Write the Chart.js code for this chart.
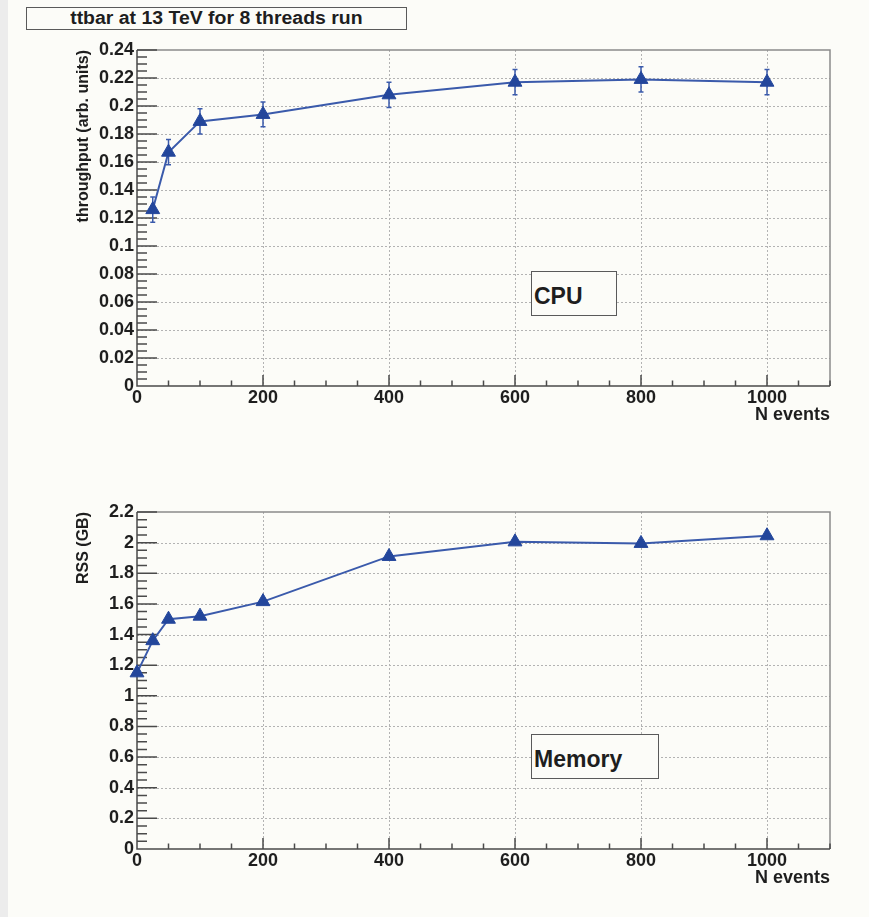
<!DOCTYPE html>
<html><head><meta charset="utf-8">
<script src="https://cdn.jsdelivr.net/npm/chart.js@4.4.1/dist/chart.umd.min.js"></script>
<style>
html,body{margin:0;padding:0;background:#fcfcf8;}
body{width:869px;height:917px;position:relative;overflow:hidden;font-family:'Liberation Sans',Arial,Helvetica,sans-serif;color:#1e1e1e;}
#strip{position:absolute;left:0;top:0;width:8px;height:917px;background:#ececec;}
.box{position:absolute;border:1px solid #5a5a5a;background:#fcfcf8;box-sizing:border-box;}
.title{left:26px;top:7px;width:381px;height:23px;text-align:center;}
.title span{display:inline-block;font-weight:bold;font-size:18px;line-height:21px;transform:scaleX(1.08);}
.lab span{position:absolute;left:2px;top:13px;font-weight:bold;font-size:23px;line-height:23px;white-space:nowrap;}
canvas{position:absolute;left:0;}
</style></head>
<body>
<div id="strip"></div>
<canvas id="c1" width="869" height="460" style="top:0"></canvas>
<canvas id="c2" width="869" height="457" style="top:460px"></canvas>
<div class="box title"><span>ttbar at 13 TeV for 8 threads run</span></div>
<div class="box lab" style="left:531px;top:271px;width:86px;height:45px;"><span>CPU</span></div>
<div class="box lab" style="left:531px;top:734px;width:128px;height:45px;"><span>Memory</span></div>
<script>
// ---- data ----
const cpuEvents = [25, 50, 100, 200, 400, 600, 800, 1000];
const cpuThroughput = [0.126, 0.167, 0.189, 0.194, 0.208, 0.217, 0.219, 0.217];
const cpuErr = [0.009, 0.009, 0.009, 0.0088, 0.009, 0.009, 0.009, 0.009];
const memEvents = [0, 25, 50, 100, 200, 400, 600, 800, 1000];
const memRss = [1.15, 1.36, 1.50, 1.52, 1.615, 1.91, 2.005, 1.995, 2.045];
const xTicks = [0, 200, 400, 600, 800, 1000];
const yTicksCpu = [0, 0.02, 0.04, 0.06, 0.08, 0.1, 0.12, 0.14, 0.16, 0.18, 0.2, 0.22, 0.24];
const yTicksMem = [0, 0.2, 0.4, 0.6, 0.8, 1, 1.2, 1.4, 1.6, 1.8, 2, 2.2];

const TXT = '#1e1e1e';
const LINE = '#3a5aab';
const MARK = '#23469b';
Chart.defaults.font.family = "'Liberation Sans', Arial, Helvetica, sans-serif";

function makeFrame(cfg) {
  return {
    id: 'rootFrame',
    beforeDatasetsDraw(chart) {
      const {ctx, chartArea: a, scales: {x, y}} = chart;
      ctx.save();
      // dotted grid at major ticks
      ctx.strokeStyle = '#b3b3b3'; ctx.lineWidth = 1; ctx.setLineDash([2, 2]);
      ctx.beginPath();
      xTicks.forEach(v => {
        if (v === x.min) return;
        const p = Math.round(x.getPixelForValue(v)) + 0.5;
        ctx.moveTo(p, a.top); ctx.lineTo(p, a.bottom);
      });
      cfg.yTicks.forEach(v => {
        if (v === y.min || v === y.max) return;
        const p = Math.round(y.getPixelForValue(v)) + 0.5;
        ctx.moveTo(a.left, p); ctx.lineTo(a.right, p);
      });
      ctx.stroke();
      ctx.setLineDash([]);
      // frame
      ctx.strokeStyle = '#8a8a8a'; ctx.lineWidth = 1.5;
      ctx.beginPath();
      ctx.moveTo(a.left, a.top); ctx.lineTo(a.right, a.top); ctx.lineTo(a.right, a.bottom);
      ctx.stroke();
      ctx.strokeStyle = '#4a4a4a';
      ctx.beginPath();
      ctx.moveTo(a.left, a.top); ctx.lineTo(a.left, a.bottom); ctx.lineTo(a.right, a.bottom);
      // y ticks (inside)
      const ny = Math.round((y.max - y.min) / cfg.yMinor);
      for (let i = 0; i <= ny; i++) {
        const v = y.min + i * cfg.yMinor;
        const major = cfg.yTicks.some(t => Math.abs(t - v) < cfg.yMinor / 10);
        const p = y.getPixelForValue(v);
        ctx.moveTo(a.left, p); ctx.lineTo(a.left + (major ? 20 : 10), p);
      }
      // x ticks (inside)
      const nx = Math.round((x.max - x.min) / 50);
      for (let i = 0; i <= nx; i++) {
        const v = x.min + i * 50;
        const major = xTicks.includes(v);
        const p = x.getPixelForValue(v);
        ctx.moveTo(p, a.bottom); ctx.lineTo(p, a.bottom - (major ? 11 : 5.5));
      }
      ctx.stroke();
      // error bars
      if (cfg.err) {
        const ds = chart.data.datasets[0].data;
        ctx.strokeStyle = LINE; ctx.lineWidth = 1.5;
        ctx.beginPath();
        ds.forEach((d, i) => {
          const px = x.getPixelForValue(d.x);
          const top = y.getPixelForValue(d.y + cfg.err[i]);
          const bot = y.getPixelForValue(d.y - cfg.err[i]);
          ctx.moveTo(px, top); ctx.lineTo(px, bot);
          ctx.moveTo(px - 2.5, top); ctx.lineTo(px + 2.5, top);
          ctx.moveTo(px - 2.5, bot); ctx.lineTo(px + 2.5, bot);
        });
        ctx.stroke();
      }
      ctx.restore();
    }
  };
}

function makeChart(id, xs, ys, cfg) {
  return new Chart(document.getElementById(id), {
    type: 'scatter',
    data: {datasets: [{
      data: xs.map((v, i) => ({x: v, y: ys[i]})),
      showLine: true, borderColor: LINE, borderWidth: 2, tension: 0,
      pointStyle: 'triangle', pointRadius: 8, pointHoverRadius: 8,
      pointBackgroundColor: MARK, pointBorderColor: MARK, pointBorderWidth: 1,
      clip: false
    }]},
    options: {
      responsive: false, animation: false, events: [],
      layout: {padding: {left: 0, top: cfg.padTop, right: 39, bottom: 0}},
      plugins: {legend: {display: false}, tooltip: {enabled: false}},
      scales: {
        x: {
          type: 'linear', min: 0, max: 1100,
          grid: {display: false, drawTicks: false}, border: {display: false},
          afterBuildTicks: s => { s.ticks = xTicks.map(v => ({value: v})); },
          afterFit: s => { s.height = cfg.xAxisH; },
          ticks: {padding: 1, color: TXT, font: {size: 18, weight: 'bold'}, maxRotation: 0, autoSkip: false,
                  callback: v => String(v)},
          title: {display: true, text: 'N events', align: 'end', color: TXT,
                  font: {size: 18, weight: 'bold'}, padding: {top: cfg.xTitlePad, bottom: cfg.xTitlePad}}
        },
        y: {
          type: 'linear', min: 0, max: cfg.yMax,
          grid: {display: false, drawTicks: false}, border: {display: false},
          afterBuildTicks: s => { s.ticks = cfg.yTicks.map(v => ({value: v})); },
          afterFit: s => { s.width = 137; },
          ticks: {padding: 3, color: TXT, font: {size: 18, weight: 'bold'}, autoSkip: false,
                  callback: v => String(v)},
          title: {display: true, text: cfg.yTitle, align: 'end', color: TXT,
                  font: {size: 16, weight: 'bold'}, padding: {top: 74.4, bottom: 74.4}}
        }
      }
    },
    plugins: [makeFrame(cfg)]
  });
}

makeChart('c1', cpuEvents, cpuThroughput, {
  padTop: 50, xAxisH: 74, xTitlePad: 34.2, yMax: 0.24, yTicks: yTicksCpu, yMinor: 0.005,
  yTitle: 'throughput (arb. units)', err: cpuErr
});
makeChart('c2', memEvents, memRss, {
  padTop: 52, xAxisH: 68, xTitlePad: 28.2, yMax: 2.2, yTicks: yTicksMem, yMinor: 0.05,
  yTitle: 'RSS (GB)', err: null
});
</script>
</body></html>
